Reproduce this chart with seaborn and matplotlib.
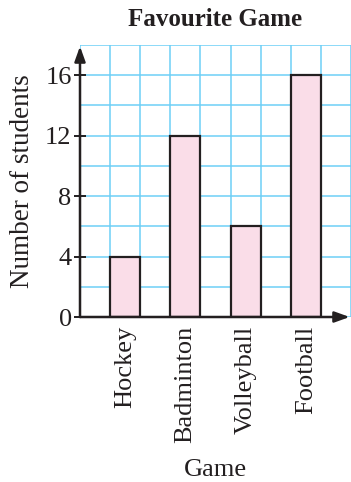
import numpy as np
import pandas as pd
import matplotlib
matplotlib.use("Agg")
import matplotlib.pyplot as plt
import seaborn as sns

games = ["Hockey", "Badminton", "Volleyball", "Football"]
students = [4, 12, 6, 16]
y_ticks = [0, 4, 8, 12, 16]

sns.set_style("white")
plt.rcParams["font.family"] = ["Liberation Serif", "DejaVu Serif"]

df = pd.DataFrame({"Game": games, "Students": students})

fig = plt.figure(figsize=(3.51, 4.82), dpi=100)
ax = fig.add_axes([80 / 351, 1 - 317 / 482, 271 / 351, 272 / 482])

ink = "#231F20"
grid_blue = "#6DCFF6"
bar_pink = "#FADDE8"

sns.barplot(data=df, x="Game", y="Students", order=games, width=0.5,
            color=bar_pink, saturation=1, edgecolor=ink,
            linewidth=1.6, ax=ax, zorder=3)

ax.set_xlim(-0.75, 3.75)
ax.set_ylim(0, 18)

# graph-paper grid: one cell per half category, two students per row
ax.set_xticks(np.arange(-0.75, 3.76, 0.5), minor=True)
ax.set_yticks(y_ticks)
ax.set_yticks(np.arange(2, 18.1, 4), minor=True)
ax.grid(which="both", color=grid_blue, linewidth=1.1, zorder=0)
ax.grid(which="major", axis="x", visible=False)
ax.set_axisbelow(True)

for s in ax.spines.values():
    s.set_visible(False)

ax.tick_params(axis="x", which="both", length=0, pad=6, labelsize=19,
               labelrotation=90, colors=ink)
ax.tick_params(axis="y", which="major", direction="inout", length=8,
               width=1.4, color=ink, labelsize=19, pad=2,
               left=True, labelcolor=ink)
ax.tick_params(axis="y", which="minor", length=0)

for lbl in ax.get_xticklabels():
    lbl.set_va("top")

ax.set_xlabel("Game", fontsize=19, color=ink, labelpad=12)
ax.set_ylabel("Number of students", fontsize=19.5, color=ink, labelpad=7)
ax.set_title("Favourite Game", fontsize=18, fontweight="bold",
             color=ink, pad=13.5)

# axes drawn as arrows
arrow = dict(arrowstyle="-|>,head_length=0.5,head_width=0.18",
             color=ink, lw=1.8, mutation_scale=18,
             shrinkA=0, shrinkB=0)
ax.annotate("", xy=(0.995, 0), xytext=(0, 0), xycoords="axes fraction",
            textcoords="axes fraction", arrowprops=arrow,
            annotation_clip=False, zorder=5)
ax.annotate("", xy=(0, 0.995), xytext=(0, 0), xycoords="axes fraction",
            textcoords="axes fraction", arrowprops=arrow,
            annotation_clip=False, zorder=5)

fig.savefig("out.png", dpi=100)
